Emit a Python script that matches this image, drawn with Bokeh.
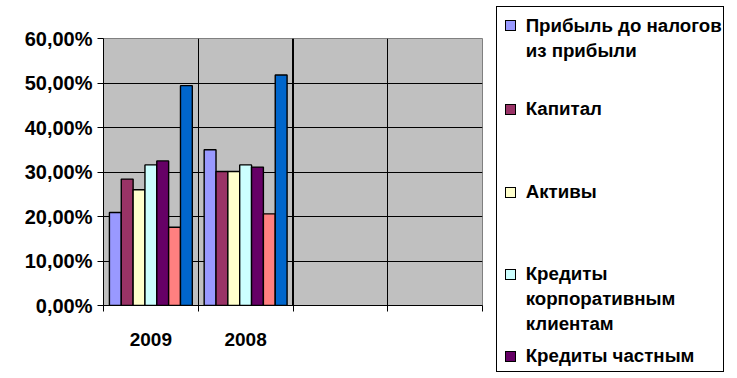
from bokeh.plotting import figure
from bokeh.models import Range1d, FixedTicker, Span, ColumnDataSource, Div
from bokeh.layouts import row
from bokeh.embed import file_html
from bokeh.resources import INLINE

# ---- data ----
categories = ["2009", "2008", "", ""]
series_names = [
    "Прибыль до налогов из прибыли",
    "Капитал",
    "Активы",
    "Кредиты корпоративным клиентам",
    "Кредиты частным клиентам",
]
values_2009 = [20.9, 28.4, 26.0, 31.6, 32.5, 17.6, 49.4]
values_2008 = [35.0, 30.1, 30.1, 31.6, 31.1, 20.6, 51.8]
colors = ["#9999FF", "#993366", "#FFFFCC", "#CCFFFF", "#660066", "#FF8080", "#0066CC"]
y_ticks = [0, 10, 20, 30, 40, 50, 60]
y_tick_labels = ["0,00%", "10,00%", "20,00%", "30,00%", "40,00%", "50,00%", "60,00%"]
legend_lines = [
    ["Прибыль до налогов", "из прибыли"],
    ["Капитал"],
    ["Активы"],
    ["Кредиты", "корпоративным", "клиентам"],
    ["Кредиты частным"],
]

FONT = "Liberation Sans"
FS = "19px"

p = figure(width=490, height=378, x_range=Range1d(0, 4), y_range=Range1d(0, 60),
           output_backend="svg", toolbar_location=None,
           min_border_left=103, min_border_right=8, min_border_top=38, min_border_bottom=73)
p.background_fill_color = "#C0C0C0"
p.border_fill_color = "white"
p.outline_line_color = "#808080"
p.outline_line_width = 1

# bars
n = len(colors)
bw = 1.0 / (n + 1)
series_vals = list(zip(values_2009, values_2008))
for j in range(n):
    xs = [i + 0.5 + (j - (n - 1) / 2) * bw for i in range(2)]
    src = ColumnDataSource(dict(x=xs, top=list(series_vals[j])))
    p.vbar(x="x", top="top", bottom=0, width=bw, source=src,
           fill_color=colors[j], line_color="black", line_width=1.4)

# grids
p.ygrid.ticker = FixedTicker(ticks=y_ticks[1:-1])
p.ygrid.grid_line_color = "black"
p.ygrid.grid_line_width = 1
p.xgrid.ticker = FixedTicker(ticks=[1, 3])
p.xgrid.grid_line_color = "black"
p.xgrid.grid_line_width = 1
p.add_layout(Span(location=2, dimension="height", line_color="black", line_width=2))

# x axis
xa = p.xaxis[0]
xa.ticker = FixedTicker(ticks=[i + 0.5 for i in range(len(categories))],
                        minor_ticks=list(range(len(categories) + 1)))
xa.major_label_overrides = {i + 0.5: c for i, c in enumerate(categories)}
xa.major_tick_line_color = None
xa.major_tick_out = 0
xa.major_tick_in = 0
xa.minor_tick_line_color = "black"
xa.minor_tick_out = 6
xa.minor_tick_in = 0
xa.axis_line_color = "black"
xa.major_label_text_font = FONT
xa.major_label_text_font_style = "bold"
xa.major_label_text_font_size = FS
xa.major_label_text_color = "black"
xa.major_label_standoff = 21

# y axis
ya = p.yaxis[0]
ya.ticker = FixedTicker(ticks=y_ticks)
ya.major_label_overrides = {t: lab for t, lab in zip(y_ticks, y_tick_labels)}
ya.major_tick_out = 6
ya.major_tick_in = 0
ya.minor_tick_line_color = None
ya.axis_line_color = "black"
ya.major_tick_line_color = "black"
ya.major_label_text_font = FONT
ya.major_label_text_font_style = "bold"
ya.major_label_text_font_size = "20px"
ya.major_label_text_color = "black"
ya.major_label_standoff = 5

# legend panel (HTML)
first_baselines = [31.7, 115, 198.3, 280, 362]
parts = ['<div style="position:relative;width:247px;height:378px;overflow:hidden;'
         'font-family:\'Liberation Sans\',Arial,sans-serif;font-weight:bold;font-size:18.7px;color:#000;">',
         '<div style="position:absolute;left:6px;top:6px;width:228px;height:366px;'
         'border:1.5px solid #000;box-sizing:border-box;"></div>']
for k, lines in enumerate(legend_lines):
    b = first_baselines[k]
    parts.append('<div style="position:absolute;left:14.5px;top:%.1fpx;width:11px;height:11px;'
                 'background:%s;border:1.2px solid #000;box-sizing:border-box;"></div>' % (b - 11.5, colors[k]))
    for m, t in enumerate(lines):
        parts.append('<div style="position:absolute;left:35.7px;top:%.1fpx;line-height:19px;'
                     'white-space:nowrap;">%s</div>' % (b + 25 * m - 16, t))
parts.append('</div>')
leg = Div(text="".join(parts), width=247, height=378, margin=0)

layout = row(p, leg)
open("out.html", "w").write(file_html(layout, INLINE))
